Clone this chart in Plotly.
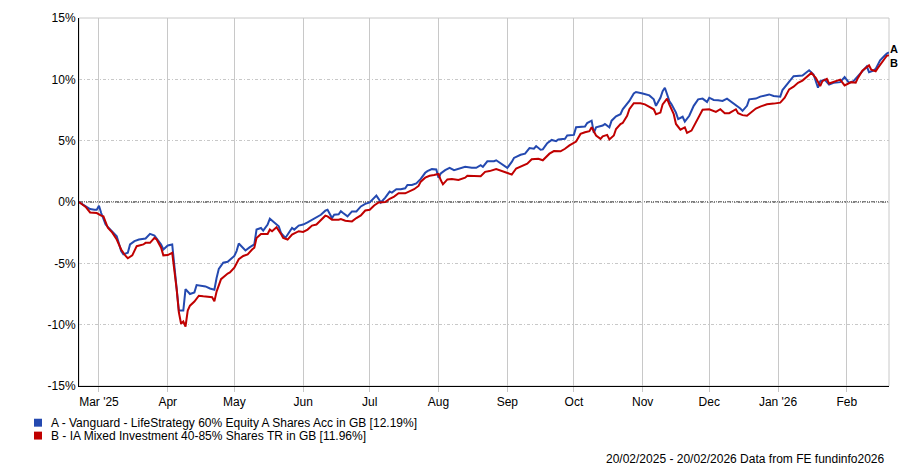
import pandas as pd
import plotly.graph_objects as go

# ---------------- data ----------------
start_date = "2025-02-20"
end_date = "2026-02-20"

series_names = [
    "A - Vanguard - LifeStrategy 60% Equity A Shares Acc in GB [12.19%]",
    "B - IA Mixed Investment 40-85% Shares TR in GB [11.96%]",
]
series_letters = ["A", "B"]

# days after 20/02/2025 and cumulative % return
days_a = [0, 2, 5, 7, 8, 9, 10, 12, 14, 17, 19, 20, 22, 23, 25, 27, 30, 32, 34, 37, 38, 40, 42, 43, 44, 45, 47, 48, 50,
          52, 53, 55, 57, 59, 61, 62, 63, 65, 67, 70, 71, 72, 75, 77, 79, 80, 82, 83, 85, 86, 88, 90, 91, 93, 96, 97,
          99, 101, 103, 107, 109, 111, 112, 114, 115, 117, 118, 119, 121, 123, 125, 127, 129, 131, 133, 134, 135, 136,
          138, 140, 141, 143, 145, 147, 148, 150, 152, 154, 156, 157, 159, 161, 162, 163, 165, 167, 169, 172, 174, 177,
          179, 181, 182, 184, 187, 188, 190, 193, 195, 196, 199, 201, 203, 205, 206, 208, 209, 211, 213, 215, 216, 219,
          220, 223, 224, 228, 229, 231, 232, 233, 236, 237, 239, 240, 242, 244, 245, 248, 250, 251, 254, 257, 259, 260,
          262, 263, 264, 266, 267, 269, 270, 272, 273, 275, 277, 279, 281, 283, 284, 286, 288, 290, 292, 294, 296, 298,
          299, 301, 302, 305, 307, 311, 313, 316, 317, 319, 322, 326, 329, 331, 333, 334, 336, 338, 340, 343, 345, 347,
          349, 351, 353, 355, 356, 358, 359, 361, 363, 364, 365]
vals_a = [0, -0.23, -0.58, -0.63, -0.63, -0.30, -0.9, -1.84, -2.25, -2.79, -4.0, -4.27, -4.14, -3.46, -3.19, -3.06,
          -2.98, -2.6, -2.73, -3.46, -3.87, -3.54, -3.46, -5.08, -6.83, -8.85, -8.85, -7.1, -7.5, -7.37, -6.77, -6.83,
          -6.88, -7.05, -7.15, -6.2, -5.45, -4.95, -4.87, -4.4, -4.0, -3.38, -3.95, -3.68, -3.46, -2.25, -2.12, -2.33,
          -1.84, -1.36, -1.71, -1.98, -2.52, -2.93, -2.12, -2.25, -1.92, -1.84, -1.66, -1.25, -1.04, -0.71, -0.63,
          -1.31, -1.04, -1.0, -0.75, -0.9, -1.17, -0.77, -0.77, -0.36, -0.15, -0.04, 0.31, 0.52, 0.26, -0.04, 0.36,
          0.85, 0.77, 1.04, 1.04, 1.12, 1.39, 1.39, 1.52, 1.88, 2.38, 2.52, 2.68, 2.65, 1.98, 2.33, 2.6, 2.79, 2.6,
          2.73, 2.87, 2.79, 2.79, 3.0, 2.86, 3.32, 3.32, 3.40, 3.13, 2.78, 3.27, 3.59, 3.85, 3.94, 4.4, 4.34, 4.56,
          4.26, 4.29, 4.8, 5.06, 4.96, 5.1, 5.15, 5.42, 5.47, 6.09, 6.15, 6.44, 6.63, 5.63, 6.09, 6.23, 6.36, 6.09,
          6.63, 6.98, 7.16, 7.56, 8.24, 8.85, 8.97, 8.85, 8.69, 8.37, 7.84, 8.5, 9.04, 9.31, 8.24, 7.96, 7.29, 6.76,
          6.95, 6.55, 7.03, 7.84, 8.37, 8.43, 8.16, 8.5, 8.32, 8.29, 8.24, 8.43, 8.16, 7.96, 7.62, 7.43, 7.84, 8.37,
          8.43, 8.59, 8.77, 8.64, 8.59, 9.13, 9.58, 10.26, 10.31, 10.74, 10.39, 9.31, 9.85, 9.98, 9.58, 9.72, 9.77,
          10.18, 9.72, 9.85, 10.26, 10.66, 11.06, 10.58, 10.71, 10.85, 11.55, 11.92, 12.1, 12.19]

days_b = [0, 3, 5, 8, 10, 11, 13, 15, 17, 19, 21, 22, 24, 26, 29, 30, 32, 34, 35, 37, 38, 40, 42, 43, 44, 45, 46, 47,
          48, 49, 50, 52, 54, 56, 59, 60, 61, 62, 63, 64, 67, 68, 70, 72, 74, 76, 78, 79, 80, 82, 85, 86, 87, 89, 91,
          92, 94, 96, 99, 101, 103, 105, 107, 109, 111, 112, 114, 117, 118, 120, 123, 125, 127, 129, 131, 133, 135,
          138, 140, 142, 144, 147, 149, 151, 153, 154, 156, 158, 160, 162, 163, 164, 166, 168, 171, 174, 175, 178, 181,
          183, 185, 188, 190, 193, 195, 197, 200, 202, 204, 207, 209, 212, 214, 217, 219, 221, 224, 226, 228, 230, 231,
          233, 235, 236, 238, 239, 241, 242, 244, 245, 247, 248, 250, 253, 255, 257, 259, 260, 262, 263, 265, 266, 268,
          269, 271, 273, 274, 276, 278, 280, 281, 284, 287, 289, 291, 293, 296, 297, 299, 301, 303, 305, 307, 310, 313,
          316, 318, 320, 322, 324, 326, 329, 330, 332, 334, 335, 337, 338, 341, 343, 345, 348, 350, 351, 353, 356, 357,
          359, 360, 362, 364, 365]
vals_b = [0, -0.4, -0.85, -0.9, -1.11, -1.17, -2.1, -2.5, -3.06, -3.87, -4.4, -4.59, -4.35, -3.6, -3.46, -3.33, -3.33,
          -2.93, -3.06, -3.73, -4.35, -4.33, -4.14, -5.48, -7.1, -8.99, -9.93, -9.74, -10.15, -8.85, -8.45, -8.12,
          -7.64, -7.69, -7.77, -7.77, -8.1, -7.3, -6.8, -6.29, -5.83, -5.75, -5.35, -4.67, -4.4, -4.27, -3.87, -3.73,
          -2.93, -2.6, -2.6, -2.25, -2.38, -2.06, -2.6, -2.93, -3.06, -2.65, -2.38, -2.44, -2.25, -1.92, -1.84, -1.44,
          -1.12, -1.17, -1.44, -1.44, -1.39, -1.52, -1.58, -1.31, -1.09, -0.69, -0.63, -0.28, -0.04, -0.01, 0.26, 0.44,
          0.71, 0.71, 0.9, 1.04, 1.31, 1.66, 1.98, 2.14, 2.2, 2.28, 1.79, 1.44, 1.84, 1.88, 1.79, 1.98, 2.14, 2.14, 2.1,
          2.46, 2.52, 2.68, 2.54, 2.38, 2.24, 2.73, 2.94, 3.13, 3.48, 3.53, 3.40, 3.94, 4.15, 4.13, 4.34, 4.61, 4.93,
          5.55, 5.69, 5.77, 6.09, 5.42, 5.15, 5.36, 5.47, 5.1, 5.42, 5.95, 6.36, 6.44, 7.03, 7.56, 8.05, 8.05, 7.96,
          7.76, 7.56, 7.16, 7.29, 7.96, 8.43, 7.96, 7.16, 6.36, 5.9, 6.09, 5.63, 5.82, 6.49, 7.16, 7.52, 7.56, 7.35,
          7.56, 7.24, 7.24, 7.56, 7.24, 7.08, 7.03, 7.29, 7.62, 7.78, 7.97, 8.02, 8.1, 8.5, 9.18, 9.4, 9.72, 9.9,
          10.39, 10.52, 10.12, 9.45, 9.85, 10.04, 9.66, 9.85, 9.98, 9.5, 9.77, 9.72, 10.12, 10.71, 11.14, 10.79, 10.66,
          10.93, 11.47, 11.92, 11.96]

month_ticks = ["2025-03-01", "2025-04-01", "2025-05-01", "2025-06-01", "2025-07-01", "2025-08-01", "2025-09-01",
               "2025-10-01", "2025-11-01", "2025-12-01", "2026-01-01", "2026-02-01"]
month_labels = ["Mar '25", "Apr", "May", "Jun", "Jul", "Aug", "Sep", "Oct", "Nov", "Dec", "Jan '26", "Feb"]
y_ticks = [-15, -10, -5, 0, 5, 10, 15]
y_labels = ["-15%", "-10%", "-5%", "0%", "5%", "10%", "15%"]

footer_text = "20/02/2025 - 20/02/2026 Data from FE fundinfo2026"

# ---------------- styling ----------------
BLUE = "#2449b0"
RED = "#c00000"
GRID = "#c8c8c8"
FONT = "Liberation Sans, Arial, sans-serif"
colors = [BLUE, RED]

W, H = 900, 467
L, R, T, B = 79, 11, 15, 81
PW, PH = W - L - R, H - T - B


def xp(px):
    return (px - L) / PW


def yp(py):
    return (H - B - py) / PH


start = pd.Timestamp(start_date)
dates_a = [start + pd.Timedelta(days=d) for d in days_a]
dates_b = [start + pd.Timedelta(days=d) for d in days_b]

fig = go.Figure()
for dts, vals, col, name in [(dates_a, vals_a, BLUE, series_names[0]), (dates_b, vals_b, RED, series_names[1])]:
    fig.add_trace(go.Scatter(x=dts, y=vals, mode="lines", line=dict(color=col, width=2),
                             name=name, showlegend=False, hoverinfo="skip"))

fig.update_layout(
    width=W, height=H,
    margin=dict(l=L, r=R, t=T, b=B),
    plot_bgcolor="white", paper_bgcolor="white",
    font=dict(family=FONT, size=12, color="#000000"),
    showlegend=False,
)

fig.update_xaxes(
    range=[pd.Timestamp(start_date), pd.Timestamp(end_date)],
    tickvals=month_ticks, ticktext=month_labels,
    showgrid=True, gridcolor=GRID, gridwidth=1,
    ticks="outside", ticklen=5, tickcolor=GRID, tickwidth=1,
    showline=True, linecolor="black", linewidth=1,
    zeroline=False,
    tickfont=dict(size=12, color="#000000"),
)
fig.update_yaxes(
    range=[-15, 15],
    tickvals=y_ticks, ticktext=y_labels,
    showgrid=True, gridcolor=GRID, gridwidth=1, griddash="3px,2px,1px,2px",
    showline=True, linecolor="black", linewidth=1,
    zeroline=False, ticks="",
    tickfont=dict(size=12, color="#000000"),
)

shapes = [
    # grey frame (top/right)
    dict(type="rect", xref="paper", yref="paper", x0=0, x1=1, y0=0, y1=1,
         line=dict(color=GRID, width=1), layer="between"),
    # zero line
    dict(type="line", xref="paper", yref="y", x0=0, x1=1, y0=0, y1=0,
         line=dict(color="black", width=1, dash="4px,1px,1px,1px,1px,1px"), layer="between"),
]

annotations = []
# legend
leg_y = [423, 436]
for i, (name, col) in enumerate(zip(series_names, colors)):
    cy = leg_y[i]
    shapes.append(dict(type="rect", xref="paper", yref="paper",
                       x0=xp(34), x1=xp(42), y0=yp(cy + 4), y1=yp(cy - 4),
                       line=dict(width=0), fillcolor=col))
    annotations.append(dict(xref="paper", yref="paper", x=xp(49), y=yp(cy), xanchor="left", yanchor="middle",
                            text=name, showarrow=False, font=dict(size=12, color="#000000")))

# end labels
last_vals = [vals_a[-1], vals_b[-1]]
shifts = [3, -8]
for letter, v, s in zip(series_letters, last_vals, shifts):
    annotations.append(dict(x=pd.Timestamp(end_date), y=v, xref="x", yref="y", xanchor="left", yanchor="middle",
                            xshift=0, yshift=s, text="<b>%s</b>" % letter, showarrow=False,
                            borderpad=0, font=dict(size=11, color="#000000")))

annotations.append(dict(xref="paper", yref="paper", x=xp(887), y=yp(460), xanchor="right", yanchor="middle",
                        text=footer_text, showarrow=False, font=dict(size=12, color="#000000")))

fig.update_layout(shapes=shapes, annotations=annotations)

fig.write_html("out.html", config={"displayModeBar": False},
               post_script="document.body.style.margin='0';document.body.style.overflow='hidden';")
